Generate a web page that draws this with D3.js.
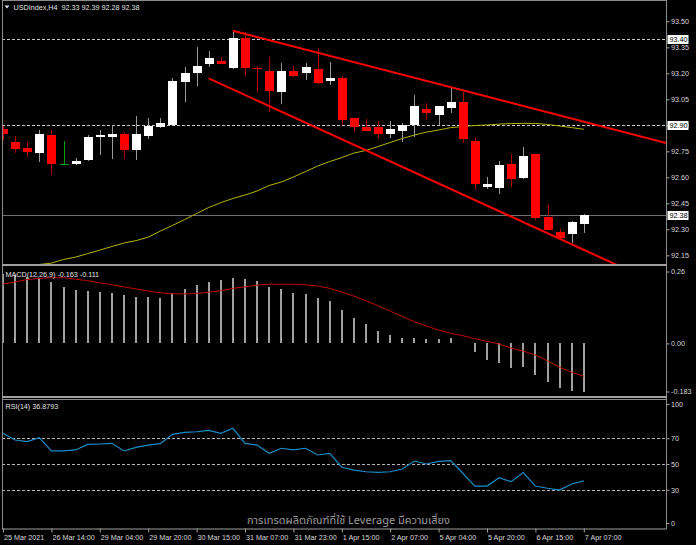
<!DOCTYPE html>
<html>
<head>
<meta charset="utf-8">
<script src="https://cdn.jsdelivr.net/npm/d3@7"></script>
<style>
  html, body { margin: 0; background: #000; }
  svg { display: block; font-family: "Liberation Sans", Arial, sans-serif; }
</style>
</head>
<body>
<svg id="chart" width="696" height="545"></svg>
<script>
// ---- data ----
const timeLabels = ["25 Mar 2021","26 Mar 14:00","29 Mar 04:00","29 Mar 20:00","30 Mar 15:00",
  "31 Mar 07:00","31 Mar 23:00","1 Apr 15:00","2 Apr 07:00","5 Apr 04:00","5 Apr 20:00",
  "6 Apr 15:00","7 Apr 07:00"];

const opens = [92.877,92.804,92.771,92.738,92.842,92.678,92.678,92.700,92.831,92.831,92.851,92.759,92.836,
  92.892,92.902,93.151,93.200,93.254,93.271,93.231,93.404,93.232,93.215,93.092,93.215,93.200,93.225,93.154,
  93.173,92.942,92.892,92.892,92.848,92.869,92.900,92.994,92.959,93.000,93.033,92.811,92.544,92.536,92.678,
  92.598,92.733,92.369,92.286,92.274,92.33];
const highs = [92.896,92.838,92.805,92.873,92.873,92.811,92.710,92.842,92.873,92.902,92.863,92.955,92.940,
  92.940,93.171,93.235,93.353,93.329,93.294,93.450,93.440,93.242,93.296,93.258,93.242,93.258,93.344,93.265,
  93.184,92.945,92.935,92.925,92.925,92.911,93.073,93.027,93.013,93.113,93.094,92.831,92.603,92.694,92.733,
  92.773,92.735,92.440,92.300,92.348,92.39];
const lows = [92.815,92.738,92.719,92.690,92.613,92.675,92.669,92.695,92.729,92.705,92.705,92.700,92.819,
  92.883,92.900,93.036,93.128,93.238,93.252,93.223,93.184,93.094,92.978,93.021,93.180,93.161,93.140,93.131,
  92.900,92.860,92.867,92.828,92.828,92.805,92.831,92.931,92.900,92.969,92.800,92.527,92.534,92.504,92.542,
  92.588,92.353,92.294,92.244,92.219,92.28];
const closes = [92.850,92.761,92.748,92.850,92.677,92.678,92.692,92.832,92.842,92.851,92.759,92.851,92.894,
  92.911,93.156,93.203,93.244,93.288,93.254,93.404,93.232,93.223,93.100,93.215,93.184,93.235,93.142,93.173,
  92.931,92.892,92.869,92.848,92.880,92.900,93.011,92.969,93.011,93.033,92.821,92.559,92.561,92.671,92.590,
  92.723,92.367,92.296,92.251,92.340,92.38];

const maLine = [92.036,92.059,92.079,92.097,92.105,92.126,92.140,92.160,92.180,92.201,92.221,92.235,92.255,
  92.290,92.322,92.356,92.391,92.426,92.454,92.478,92.498,92.521,92.553,92.573,92.602,92.633,92.665,92.691,
  92.714,92.740,92.755,92.778,92.801,92.824,92.844,92.861,92.873,92.887,92.893,92.899,92.902,92.907,92.910,
  92.911,92.911,92.905,92.896,92.887,92.877];

const macdHist = [0.236,0.231,0.225,0.222,0.208,0.191,0.180,0.177,0.175,0.171,0.162,0.157,0.157,0.154,0.169,
  0.184,0.197,0.207,0.213,0.222,0.217,0.211,0.191,0.185,0.171,0.167,0.154,0.143,0.113,0.087,0.064,0.043,0.028,
  0.018,0.018,0.015,0.016,0.018,0.002,-0.030,-0.056,-0.065,-0.082,-0.079,-0.107,-0.130,-0.152,-0.161,-0.163];
const macdSignal = [0.200,0.208,0.216,0.220,0.222,0.222,0.217,0.212,0.205,0.198,0.191,0.184,0.177,0.171,0.168,
  0.167,0.169,0.173,0.178,0.186,0.191,0.197,0.200,0.200,0.200,0.198,0.194,0.186,0.173,0.160,0.144,0.127,0.109,
  0.091,0.073,0.059,0.045,0.034,0.026,0.016,0.007,-0.002,-0.016,-0.026,-0.039,-0.059,-0.081,-0.098,-0.111];

const rsiLine = [73.8,68.6,67.3,70.4,60.1,60.1,60.9,65.2,65.5,66.0,60.1,62.9,64.7,65.8,73.0,74.5,75.0,76.1,
  73.8,77.7,66.0,64.7,58.3,62.2,60.9,62.2,57.0,58.3,47.5,45.3,44.0,43.5,44.0,46.1,52.3,50.0,52.1,52.6,42.8,
  32.9,32.9,39.4,36.3,43.3,32.9,31.2,29.8,34.5,36.88];

const priceTicks = [93.50,93.35,93.20,93.05,92.90,92.75,92.60,92.45,92.30,92.15];
const priceLevels = [93.40, 92.90];       // dotted lines
const lastPrice = 92.38;
const macdTicks = [0.26, 0, -0.183];
const rsiTicks = [100, 70, 50, 30, 0];
const rsiLevels = [70, 50, 30];

// trend lines: [barIndex, price] pairs
const upperTrend = [[19, 93.446], [56, 92.776]];
const lowerTrend = [[17, 93.171], [53, 92.022]];

const header = "USDIndex,H4  92.33 92.39 92.28 92.38";
const watermark = "การเทรดผลิตภัณฑ์ที่ใช้ Leverage มีความเสี่ยง";

// ---- layout ----
const W = 696, H = 545;
const left = 2, right = 666.5;
const svg = d3.select("#chart");
svg.append("rect").attr("width", W).attr("height", H).attr("fill", "#000");

const idx = d3.range(closes.length);
const x = d3.scaleLinear().domain([0, 48]).range([3, 583.8]);
const yP = d3.scaleLinear().domain([92.10, 93.60]).range([264, 4]);
const yM = d3.scaleLinear().domain([-0.183, 0.26]).range([397.5, 266.5]);
const yR = d3.scaleLinear().domain([0, 100]).range([528.5, 399.5]);

const defs = svg.append("defs");
function clip(id, y0, y1){
  defs.append("clipPath").attr("id", id).append("rect")
    .attr("x", left + 1).attr("y", y0).attr("width", right - left - 1).attr("height", y1 - y0);
  return svg.append("g").attr("clip-path", `url(#${id})`);
}
const gMain = clip("cMain", 0, 264);
const gMacd = clip("cMacd", 266.5, 397);
const gRsi = clip("cRsi", 399.5, 528);

// ---- main panel ----
priceLevels.forEach(p=>{
  gMain.append("line").attr("x1", left).attr("x2", right)
    .attr("y1", Math.round(yP(p)) + 0.5).attr("y2", Math.round(yP(p)) + 0.5)
    .attr("stroke", "#c8c8c8").attr("stroke-dasharray", "3,2");
});
gMain.append("line").attr("x1", left).attr("x2", right)
  .attr("y1", Math.round(yP(lastPrice)) + 0.5).attr("y2", Math.round(yP(lastPrice)) + 0.5)
  .attr("stroke", "#6e6e6e");

gMain.append("path").datum(idx)
  .attr("fill", "none").attr("stroke", "#b4b400").attr("stroke-width", 1)
  .attr("d", d3.line().x(i=>x(i)).y(i=>yP(maLine[i])));

const candles = gMain.append("g").attr("shape-rendering", "crispEdges");
idx.forEach(i=>{
  const cx = Math.round(x(i));
  const o = opens[i], c = closes[i];
  const doji = Math.abs(o - c) < 0.0015;
  const up = c > o;
  const wickCol = doji ? "#00a000" : (up ? "#9a9a9a" : "#b00000");
  candles.append("line").attr("x1", cx + 0.5).attr("x2", cx + 0.5)
    .attr("y1", yP(highs[i])).attr("y2", yP(lows[i])).attr("stroke", wickCol);
  if(doji){
    candles.append("line").attr("x1", cx - 4).attr("x2", cx + 5)
      .attr("y1", Math.round(yP(c)) + 0.5).attr("y2", Math.round(yP(c)) + 0.5).attr("stroke", wickCol);
  } else {
    const top = yP(Math.max(o, c)), bot = yP(Math.min(o, c));
    candles.append("rect").attr("x", cx - 4).attr("width", 9)
      .attr("y", top).attr("height", Math.max(1, bot - top))
      .attr("fill", up ? "#ffffff" : "#ff0000");
  }
});

[upperTrend, lowerTrend].forEach(t=>{
  gMain.append("path").datum(t)
    .attr("fill", "none").attr("stroke", "#ff0000").attr("stroke-width", 2)
    .attr("d", d3.line().x(d=>x(d[0])).y(d=>yP(d[1])));
});

// ---- MACD panel ----
gMacd.append("g").attr("shape-rendering", "crispEdges").selectAll("rect").data(idx).join("rect")
  .attr("x", i=>Math.round(x(i)) - 1).attr("width", 2)
  .attr("y", i=>yM(Math.max(0, macdHist[i])))
  .attr("height", i=>Math.max(0.6, Math.abs(yM(macdHist[i]) - yM(0))))
  .attr("fill", "#a0a0a0");
gMacd.append("path").datum(idx)
  .attr("fill", "none").attr("stroke", "#c00000").attr("stroke-width", 1)
  .attr("d", d3.line().x(i=>x(i)).y(i=>yM(macdSignal[i])));

// ---- RSI panel ----
rsiLevels.forEach(v=>{
  gRsi.append("line").attr("x1", left).attr("x2", right)
    .attr("y1", Math.round(yR(v)) + 0.5).attr("y2", Math.round(yR(v)) + 0.5)
    .attr("stroke", "#b4b4b4").attr("stroke-dasharray", "3,2");
});
gRsi.append("path").datum(idx)
  .attr("fill", "none").attr("stroke", "#1a8cc8").attr("stroke-width", 1.2)
  .attr("d", d3.line().x(i=>x(i)).y(i=>yR(rsiLine[i])));

// ---- frame ----
const frame = svg.append("g").attr("stroke", "#8c8c8c").attr("shape-rendering", "crispEdges");
frame.append("line").attr("x1", left + 0.5).attr("x2", left + 0.5).attr("y1", 0).attr("y2", 529);
frame.append("line").attr("x1", right).attr("x2", right).attr("y1", 0).attr("y2", 529);
frame.append("line").attr("x1", left).attr("x2", right).attr("y1", 0.5).attr("y2", 0.5);
frame.append("line").attr("x1", left).attr("x2", right).attr("y1", 265).attr("y2", 265).attr("stroke-width", 2).attr("stroke", "#a0a0a0");
frame.append("line").attr("x1", left).attr("x2", right).attr("y1", 397).attr("y2", 397).attr("stroke-width", 2).attr("stroke", "#a0a0a0");
frame.append("line").attr("x1", left).attr("x2", right).attr("y1", 399.5).attr("y2", 399.5);

// ---- axes ----
function styleAxis(g){
  g.select(".domain").remove();
  g.selectAll(".tick line").attr("stroke", "#a0a0a0");
  g.selectAll(".tick text").attr("fill", "#d8d8d8").attr("font-size", "7.2px")
    .attr("font-family", "Liberation Sans, Arial, sans-serif");
}
const axP = svg.append("g").attr("transform", `translate(${right},0)`)
  .call(d3.axisRight(yP).tickValues(priceTicks).tickSize(3).tickPadding(1.5).tickFormat(d3.format(".2f")));
styleAxis(axP);

const axM = svg.append("g").attr("transform", `translate(${right},0)`)
  .call(d3.axisRight(yM).tickValues(macdTicks).tickSize(3).tickPadding(1.5)
    .tickFormat(d=> d === 0 ? "0.00" : (d === -0.183 ? "-0.183" : d3.format(".2f")(d))));
styleAxis(axM);
axM.selectAll(".tick").filter(d=>d === 0.26).attr("transform", `translate(0,${yM(0.26) + 5.5})`);
axM.selectAll(".tick").filter(d=>d === -0.183).attr("transform", `translate(0,${yM(-0.183) - 5.5})`);

const axR = svg.append("g").attr("transform", `translate(${right},0)`)
  .call(d3.axisRight(yR).tickValues(rsiTicks).tickSize(3).tickPadding(1.5));
styleAxis(axR);
axR.selectAll(".tick").filter(d=>d === 100).attr("transform", `translate(0,${yR(100) + 5})`);
axR.selectAll(".tick").filter(d=>d === 0).attr("transform", `translate(0,${yR(0) - 5})`);

const axX = svg.append("g").attr("transform", "translate(0,528.5)")
  .call(d3.axisBottom(x).tickValues(d3.range(0, 49, 4)).tickSize(4).tickPadding(1)
    .tickFormat((d, i)=>timeLabels[i]));
axX.select(".domain").attr("stroke", "#a0a0a0").attr("d", `M${left},0.5H${right}`);
axX.selectAll(".tick line").attr("stroke", "#a0a0a0");
axX.selectAll(".tick text").attr("fill", "#d8d8d8").attr("font-size", "7.2px")
  .attr("text-anchor", "start").attr("dx", "0.5").attr("dy", "0.9em")
  .attr("font-family", "Liberation Sans, Arial, sans-serif");

// boxed price labels
[[93.40, "93.40"], [92.90, "92.90"], [lastPrice, "92.38"]].forEach(([p, t])=>{
  const yy = Math.round(yP(p)) + 0.5;
  svg.append("rect").attr("x", 667.5).attr("y", yy - 4.5).attr("width", 21).attr("height", 9)
    .attr("fill", "#fff");
  svg.append("text").attr("x", 669.5).attr("y", yy).attr("dy", "0.35em")
    .attr("font-size", "7.2px").attr("fill", "#000").text(t);
});

// ---- texts ----
svg.append("path").attr("d", "M4.5,5.5 L9.5,5.5 L7,8.5 Z").attr("fill", "#e0e0e0");
svg.append("text").attr("x", 13.5).attr("y", 10).attr("font-size", "7.2px").attr("fill", "#e0e0e0")
  .attr("xml:space", "preserve").style("white-space", "pre").text(header);
svg.append("text").attr("x", 5.5).attr("y", 276.5).attr("font-size", "7.2px").attr("fill", "#e0e0e0")
  .text("MACD(12,26,9) -0.163 -0.111");
svg.append("text").attr("x", 5.5).attr("y", 409).attr("font-size", "7.2px").attr("fill", "#e0e0e0")
  .text("RSI(14) 36.8793");
svg.append("text").attr("x", 247).attr("y", 524).attr("font-size", "11px").attr("fill", "#9a9a9a")
  .attr("font-family", "'Noto Sans Thai', 'Noto Sans', 'DejaVu Sans', sans-serif")
  .text(watermark);
</script>
</body>
</html>
